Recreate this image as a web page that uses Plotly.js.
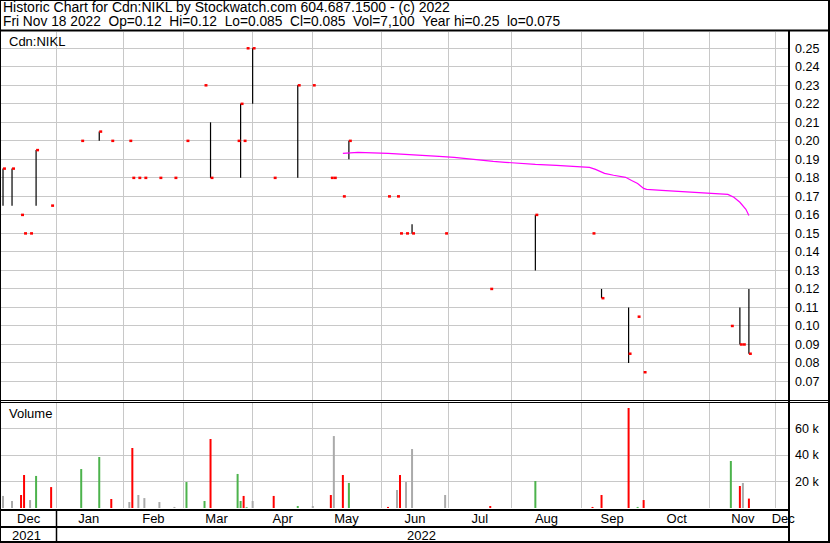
<!DOCTYPE html>
<html>
<head>
<meta charset="utf-8">
<script src="https://cdn.plot.ly/plotly-3.0.1.min.js"></script>
<style>
html,body{margin:0;padding:0;background:#ffffff;}
#chart{width:830px;height:543px;}
</style>
</head>
<body>
<div id="chart"></div>
<script>
// ---- data ----
const dates = ["2021-12-07","2021-12-10","2021-12-15","2021-12-16","2021-12-20","2021-12-22","2021-12-29",
  "2022-01-12","2022-01-20","2022-01-26","2022-02-03","2022-02-04","2022-02-08","2022-02-10","2022-02-17","2022-02-24",
  "2022-03-02","2022-03-10","2022-03-14","2022-03-25","2022-03-28","2022-03-29","2022-03-30","2022-04-01","2022-04-12",
  "2022-04-22","2022-04-29","2022-05-09","2022-05-10","2022-05-13","2022-05-17","2022-06-03","2022-06-08","2022-06-09",
  "2022-06-13","2022-06-15","2022-06-30","2022-07-21","2022-08-11","2022-09-07","2022-09-12","2022-09-23","2022-09-28",
  "2022-09-30","2022-11-10","2022-11-15","2022-11-16","2022-11-18"];
const highs = [0.185,0.185,0.16,0.15,0.15,0.195,0.165,0.20,0.205,0.20,0.20,0.18,0.18,0.18,0.18,0.18,
  0.20,0.23,0.21,0.20,0.22,0.20,0.25,0.25,0.18,0.23,0.23,0.18,0.18,0.17,0.20,0.17,0.17,0.15,
  0.15,0.155,0.15,0.12,0.16,0.15,0.12,0.11,0.105,0.075,0.10,0.11,0.09,0.12];
const lows = [0.165,0.165,0.16,0.15,0.15,0.165,0.165,0.20,0.20,0.20,0.20,0.18,0.18,0.18,0.18,0.18,
  0.20,0.23,0.18,0.20,0.18,0.20,0.25,0.22,0.18,0.18,0.23,0.18,0.18,0.17,0.19,0.17,0.17,0.15,
  0.15,0.15,0.15,0.12,0.13,0.15,0.115,0.08,0.105,0.075,0.10,0.09,0.09,0.085];
const closes = [0.185,0.185,0.16,0.15,0.15,0.195,0.165,0.20,0.205,0.20,0.20,0.18,0.18,0.18,0.18,0.18,
  0.20,0.23,0.18,0.20,0.22,0.20,0.25,0.25,0.18,0.23,0.23,0.18,0.18,0.17,0.20,0.17,0.17,0.15,
  0.15,0.15,0.15,0.12,0.16,0.15,0.115,0.085,0.105,0.075,0.10,0.09,0.09,0.085];
const volumes = [9100,5300,9800,24900,6000,24200,15800,29400,38500,6800,4500,45300,9800,7500,4500,800,
  19600,5300,52100,25700,5300,9100,600,5300,9100,1500,1500,9800,54300,24900,18900,800,13600,24900,
  19600,44500,9800,1500,20400,800,9800,75500,800,6000,35500,16600,18900,7100];

const maDates = ["2022-05-13","2022-05-20","2022-06-03","2022-06-14","2022-06-17","2022-06-28","2022-07-05",
  "2022-07-08","2022-07-13","2022-07-18","2022-07-22","2022-07-28","2022-08-04","2022-08-11","2022-08-22",
  "2022-08-30","2022-09-06","2022-09-08","2022-09-13","2022-09-16","2022-09-22","2022-09-26","2022-09-28",
  "2022-09-30","2022-10-03","2022-10-10","2022-10-18","2022-10-26","2022-11-02","2022-11-09","2022-11-11",
  "2022-11-15","2022-11-17","2022-11-18"];
const maValues = [0.1932,0.1938,0.1932,0.1927,0.1922,0.1916,0.1911,0.1905,0.19,0.1895,0.1889,0.1884,
  0.1878,0.1873,0.1868,0.1862,0.1857,0.1846,0.1824,0.1814,0.1803,0.1786,0.177,0.1743,0.1738,0.1732,
  0.1727,0.1722,0.1716,0.1711,0.1695,0.1668,0.163,0.1597];

const priceTicks = [0.07,0.08,0.09,0.10,0.11,0.12,0.13,0.14,0.15,0.16,0.17,0.18,0.19,0.20,0.21,0.22,0.23,0.24,0.25];
const volumeTicks = [20000,40000,60000];
const volumeTickLabels = ["20 k","40 k","60 k"];
const monthLabels = ["Dec","Jan","Feb","Mar","Apr","May","Jun","Jul","Aug","Sep","Oct","Nov","Dec"];
const yearLabels = ["2021","2022"];
const headerLine1 = "Historic Chart for Cdn:NIKL by Stockwatch.com 604.687.1500 - (c) 2022";
const headerLine2 = "Fri Nov 18 2022 \u00a0Op=0.12 \u00a0Hi=0.12 \u00a0Lo=0.085 \u00a0Cl=0.085 \u00a0Vol=7,100 \u00a0Year hi=0.25 \u00a0lo=0.075";
const symbolLabel = "Cdn:NIKL";
const volumeLabel = "Volume";

// ---- layout geometry ----
const W = 830, H = 543, ML = 0, MR = 42, MT = 32, MB = 35;
const PW = W - ML - MR, PH = H - MT - MB;
const fx = x => (x - ML) / PW;
const fy = y => (H - MB - y) / PH;

// axis tick positions (month boundaries / label centres)
const monthBoundaries = ["2021-12-30 15:00","2022-02-01","2022-03-01","2022-04-01","2022-04-29","2022-06-01",
  "2022-07-01","2022-08-01","2022-09-01 12:00","2022-09-30","2022-11-01","2022-12-01"];
const monthLabelPos = ["2021-12-17 12:00","2022-01-14 12:00","2022-02-15","2022-03-16","2022-04-15",
  "2022-05-16 05:00","2022-06-16","2022-07-15 12:00","2022-08-16 17:00","2022-09-15 12:00","2022-10-17",
  "2022-11-16","2022-12-05 10:00"];

// ---- build traces ----
const hlX = [], hlY = [];
dates.forEach((d, i) => { if (highs[i] > lows[i]) { hlX.push(d, d, null); hlY.push(lows[i], highs[i], null); } });
const tkX = [], tkY = [];
dates.forEach((d, i) => { tkX.push(d, d + " 23:30", null); tkY.push(closes[i], closes[i], null); });
const volGroups = { up: {x: [], y: []}, down: {x: [], y: []}, flat: {x: [], y: []} };
dates.forEach((d, i) => {
  let g = "flat";
  if (i > 0) g = closes[i] > closes[i-1] ? "up" : (closes[i] < closes[i-1] ? "down" : "flat");
  volGroups[g].x.push(d, d, null); volGroups[g].y.push(0, volumes[i], null);
});
const volColors = { up: "#4cb34c", down: "#ff0000", flat: "#aaaaaa" };

const traces = [];
["flat","up","down"].forEach(g => traces.push({
  type: "scatter", mode: "lines", x: volGroups[g].x, y: volGroups[g].y, xaxis: "x2", yaxis: "y2",
  line: { color: volColors[g], width: 2 }, hoverinfo: "skip"
}));
traces.push({ type: "scatter", mode: "lines", x: hlX, y: hlY, xaxis: "x", yaxis: "y",
  line: { color: "#000000", width: 1.2 }, hoverinfo: "skip" });
traces.push({ type: "scatter", mode: "lines", x: tkX, y: tkY, xaxis: "x", yaxis: "y",
  line: { color: "#ff0000", width: 2.5 }, hoverinfo: "skip" });
traces.push({ type: "scatter", mode: "lines", x: maDates, y: maValues, xaxis: "x", yaxis: "y",
  line: { color: "#ff00ff", width: 1.2 }, hoverinfo: "skip" });

const minorGrid = { tickmode: "array", tickvals: monthBoundaries, showgrid: true, gridcolor: "#c8c8c8", gridwidth: 1, ticks: "" };
const breaks = [{ bounds: ["sat", "mon"] }];
const fontFam = '"Liberation Sans", Arial, sans-serif';

function hline(y, x0, x1, w) { return { type: "line", xref: "paper", yref: "paper", x0: fx(x0), x1: fx(x1), y0: fy(y), y1: fy(y), line: { color: "#000", width: w } }; }
function vline(x, y0, y1, w) { return { type: "line", xref: "paper", yref: "paper", x0: fx(x), x1: fx(x), y0: fy(y0), y1: fy(y1), line: { color: "#000", width: w } }; }

const shapes = [
  { type: "rect", xref: "paper", yref: "paper", x0: fx(0), x1: fx(829), y0: fy(0), y1: fy(542), line: { color: "#000", width: 2 } },
  hline(30.5, 0, 829, 2),
  hline(400.5, 0, 829, 1),
  hline(402.5, 0, 829, 1),
  hline(510, 0, 789, 2),
  hline(527, 0, 789, 2),
  vline(56.5, 510, 542, 1.5),
  vline(789, 31, 543, 2)
];

function txt(text, x, y, anchor, size) {
  return { text: text, xref: "paper", yref: "paper", x: fx(x), y: fy(y), xanchor: anchor || "left", yanchor: "middle",
    showarrow: false, font: { family: fontFam, size: size || 13, color: "#000" }, borderpad: 0 };
}
const annotations = [
  txt(headerLine1, 2, 7.5, "left", 14),
  txt(headerLine2, 2, 21.5, "left", 13.75),
  txt(symbolLabel, 8, 41.5),
  txt(volumeLabel, 8, 413),
  txt(yearLabels[0], 26.7, 535, "center"),
  txt(yearLabels[1], 421, 535, "center")
];

const layout = {
  width: W, height: H,
  margin: { l: ML, r: MR, t: MT, b: MB, pad: 0 },
  paper_bgcolor: "#ffffff", plot_bgcolor: "#ffffff", showlegend: false,
  font: { family: fontFam, size: 13, color: "#000" },
  xaxis: { type: "date", domain: [0, 1], anchor: "y", range: ["2021-12-06", "2022-12-07"], rangebreaks: breaks,
    showticklabels: false, ticks: "", showgrid: false, zeroline: false, showline: false, minor: minorGrid },
  xaxis2: { type: "date", domain: [0, 1], anchor: "y2", matches: "x", range: ["2021-12-06", "2022-12-07"], rangebreaks: breaks,
    tickmode: "array", tickvals: monthLabelPos, ticktext: monthLabels, ticks: "", showgrid: false, zeroline: false,
    showline: false, minor: minorGrid, tickfont: { family: fontFam, size: 13, color: "#000" }, ticklabelstandoff: 1 },
  yaxis: { domain: [fy(400), 1], anchor: "x", range: [0.06, 0.2588], side: "right", tickmode: "array",
    tickvals: priceTicks, ticktext: priceTicks.map(v => v.toFixed(2)), ticks: "", showgrid: true, gridcolor: "#c8c8c8",
    gridwidth: 1, zeroline: false, showline: false, tickfont: { family: fontFam, size: 12.5, color: "#000" }, ticklabelstandoff: 6 },
  yaxis2: { domain: [0, fy(403)], anchor: "x2", range: [0, 79250], side: "right", tickmode: "array",
    tickvals: volumeTicks, ticktext: volumeTickLabels, ticks: "", showgrid: true, gridcolor: "#c8c8c8",
    gridwidth: 1, zeroline: false, showline: false, tickfont: { family: fontFam, size: 12.5, color: "#000" }, ticklabelstandoff: 6 },
  shapes: shapes,
  annotations: annotations
};

Plotly.newPlot("chart", traces, layout, { staticPlot: true, displayModeBar: false });
</script>
</body>
</html>
